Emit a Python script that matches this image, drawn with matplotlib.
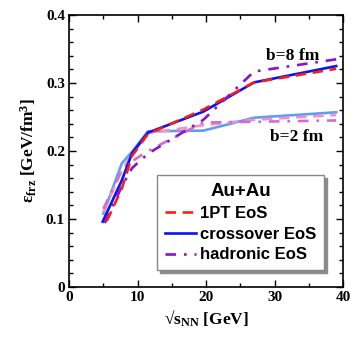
import matplotlib
matplotlib.use("Agg")
import matplotlib.pyplot as plt
from matplotlib.ticker import MultipleLocator

plt.rcParams['mathtext.default'] = 'regular'

# ---- data (b = 8 fm) ----
x_1pt_b8 = [5.5, 7.7, 9.2, 11.5, 19.6, 27, 39]
y_1pt_b8 = [0.097, 0.145, 0.193, 0.225, 0.261, 0.301, 0.321]
x_cross_b8 = [4.9, 7.7, 9.2, 11.5, 19.6, 27, 39]
y_cross_b8 = [0.096, 0.157, 0.197, 0.227, 0.258, 0.301, 0.325]
x_hadr_b8 = [5.2, 7.7, 9.2, 11.5, 19.6, 27, 39]
y_hadr_b8 = [0.094, 0.148, 0.175, 0.196, 0.246, 0.317, 0.335]

# ---- data (b = 2 fm) ----
x_b2 = [5.0, 7.7, 9.2, 11.5, 19.6, 27, 39]
y_cross_b2 = [0.108, 0.182, 0.199, 0.229, 0.230, 0.249, 0.257]
y_1pt_b2 = [0.110, 0.172, 0.195, 0.226, 0.238, 0.246, 0.253]
y_hadr_b2 = [0.115, 0.172, 0.185, 0.200, 0.242, 0.243, 0.245]

labels = ['1PT EoS', 'crossover EoS', 'hadronic EoS']
xticks = [0, 10, 20, 30, 40]
yticks = [0, 0.1, 0.2, 0.3, 0.4]
yticklabels = ['0', '0.1', '0.2', '0.3', '0.4']

dash = (0, (4, 2.5))
dashdot = (0, (4, 3, 1, 3))
lw = 1.9

fig = plt.figure(figsize=(3.6, 3.52), dpi=100)
ax = fig.add_axes([0.192, 0.185, 0.761, 0.772])

# b = 2 fm (light colours)
ax.plot(x_b2, y_cross_b2, color='#5e9ef2', lw=lw, ls='-')
ax.plot(x_b2, y_1pt_b2, color='#f490c4', lw=lw, ls=dash)
ax.plot(x_b2, y_hadr_b2, color='#cf6ed2', lw=lw, ls=dashdot)

# b = 8 fm
l1, = ax.plot(x_1pt_b8, y_1pt_b8, color='#ff1a1a', lw=lw, ls=dash)
l2, = ax.plot(x_cross_b8, y_cross_b8, color='#0a14f0', lw=lw, ls='-')
l3, = ax.plot(x_hadr_b8, y_hadr_b8, color='#8c10cc', lw=lw, ls=dashdot)
l1.set_zorder(3)

ax.set_xlim(0, 40)
ax.set_ylim(0, 0.4)
ax.set_xticks(xticks)
ax.set_yticks(yticks)
ax.set_yticklabels(yticklabels)
ax.xaxis.set_minor_locator(MultipleLocator(5))
ax.yaxis.set_minor_locator(MultipleLocator(0.02))
ax.tick_params(which='both', direction='in', top=True, right=True, width=1.0)
ax.tick_params(which='major', length=5)
ax.tick_params(which='minor', length=3)
for s in ax.spines.values():
    s.set_linewidth(1.2)
for t in ax.get_xticklabels() + ax.get_yticklabels():
    t.set_fontfamily('Liberation Serif')
    t.set_fontweight('bold')
    t.set_fontsize(11)
ax.tick_params(axis='x', pad=3)
ax.tick_params(axis='y', pad=3)

ax.set_xlabel('√s$_{NN}$ [GeV]', fontfamily='Liberation Serif',
              fontweight='bold', fontsize=12.5, labelpad=3)
ax.set_ylabel('ε$_{frz}$ [GeV/fm$^{3}$]', fontfamily='Liberation Serif',
              fontweight='bold', fontsize=12.5, labelpad=5)

ax.text(32.7, 0.340, 'b=8 fm', fontfamily='Liberation Serif', fontweight='bold',
        fontsize=12.5, ha='center', va='center')
ax.text(33.2, 0.220, 'b=2 fm', fontfamily='Liberation Serif', fontweight='bold',
        fontsize=12.5, ha='center', va='center')

leg = ax.legend([l1, l2, l3], labels, loc='lower left',
                bbox_to_anchor=(0.321, 0.0625), borderaxespad=0,
                title='Au+Au', fancybox=False, edgecolor='#888888',
                framealpha=1, shadow={'color': '0.55', 'alpha': 1},
                prop={'family': 'Liberation Sans', 'weight': 'bold', 'size': 12},
                title_fontproperties={'family': 'Liberation Sans', 'weight': 'bold', 'size': 13.5},
                handlelength=1.9, handletextpad=0.25, borderpad=0.45,
                labelspacing=0.35)
leg.get_frame().set_linewidth(1.0)
leg.set_zorder(5)

fig.savefig('out.png', dpi=100)
